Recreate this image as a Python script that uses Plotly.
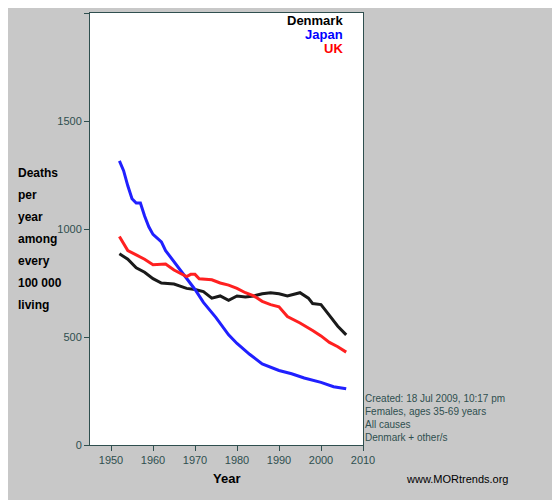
import plotly.graph_objects as go

dk_year = [1952, 1954, 1956, 1958, 1960, 1962, 1965, 1968, 1970, 1972, 1974, 1976, 1978, 1980, 1982,
           1984, 1986, 1988, 1990, 1992, 1995, 1997, 1998, 2000, 2002, 2004, 2006]
dk_rate = [885, 860, 820, 800, 770, 750, 745, 725, 720, 710, 680, 690, 670, 690, 685,
           690, 700, 705, 700, 690, 705, 680, 655, 650, 600, 550, 510]

jp_year = [1952, 1953, 1954, 1955, 1956, 1957, 1958, 1959, 1960, 1962, 1963, 1965, 1967, 1970,
           1972, 1975, 1978, 1980, 1983, 1986, 1990, 1993, 1996, 2000, 2003, 2006]
jp_rate = [1315, 1270, 1200, 1140, 1120, 1120, 1060, 1010, 975, 940, 900, 850, 800, 720,
           660, 590, 510, 470, 420, 375, 345, 330, 310, 290, 270, 260]

uk_year = [1952, 1954, 1956, 1958, 1960, 1962, 1963, 1965, 1968, 1969, 1970, 1971, 1974, 1976,
           1978, 1980, 1982, 1984, 1986, 1988, 1990, 1992, 1995, 1998, 2000, 2002, 2004, 2006]
uk_rate = [965, 900, 880, 860, 835, 835, 838, 810, 780, 790, 790, 770, 765, 750,
           740, 725, 705, 690, 665, 650, 640, 595, 565, 530, 505, 475, 455, 430]

ylabel_lines = ["Deaths", "per", "year", "among", "every", "100 000", "living"]

fig = go.Figure()
for x, y, c in [(dk_year, dk_rate, "#1a1a1a"), (jp_year, jp_rate, "#2020ff"), (uk_year, uk_rate, "#ff2020")]:
    fig.add_trace(go.Scatter(x=x, y=y, mode="lines", line=dict(color=c, width=3), showlegend=False))

axis = dict(showgrid=False, zeroline=False, ticks="outside", ticklen=5, showline=True,
            linecolor="#2f4f4f", tickcolor="#2f4f4f", tickfont=dict(size=11, color="#2f4f4f"), mirror=True)
fig.update_xaxes(range=[1945, 2010], dtick=10, **axis)
fig.update_yaxes(range=[0, 2000], dtick=500, **axis)

legend = [("<b>Denmark</b>", "#000000"), ("<b>Japan</b>", "#0000ff"), ("<b>UK</b>", "#ff0000")]
for i, (t, c) in enumerate(legend):
    fig.add_annotation(x=1.0, y=1.0, xref="paper", yref="paper", xanchor="right", yanchor="top",
                       text=t, showarrow=False, font=dict(size=13, color=c, family="Arial"),
                       xshift=-18, yshift=2 - 14 * i)

for i, t in enumerate(ylabel_lines):
    fig.add_annotation(x=8, y=165 + 22 * i, xref="paper", yref="paper", showarrow=False,
                       text="<b>" + t + "</b>", font=dict(size=12, color="#000000", family="Arial"),
                       xanchor="left", yanchor="middle")
# convert pixel-placed y labels to paper coordinates
for a in fig.layout.annotations[3:]:
    a.x = (a.x - 82) / 273.0
    a.y = 1 - (a.y - 5) / 432.0

fig.add_annotation(x=0.5, y=-0.055, xref="paper", yref="paper", yanchor="top", text="<b>Year</b>",
                   showarrow=False, font=dict(size=13, color="#000000", family="Arial"))
fig.add_annotation(x=1.0, y=0.125, xref="paper", yref="paper", xanchor="left", yanchor="top", align="left",
                   text="Created: 18 Jul 2009, 10:17 pm<br>Females, ages 35-69 years<br>All causes<br>Denmark + other/s",
                   showarrow=False, font=dict(size=10, color="#2f4f4f", family="Arial"), xshift=0)
fig.add_annotation(x=1.15, y=-0.06, xref="paper", yref="paper", xanchor="left", yanchor="top",
                   text="www.MORtrends.org", showarrow=False, font=dict(size=11, color="#000000", family="Arial"))

fig.update_layout(width=560, height=500, margin=dict(l=82, r=205, t=5, b=63),
                  paper_bgcolor="#c8c8c8", plot_bgcolor="#ffffff", font=dict(family="Arial"))
fig.write_html("out.html")
